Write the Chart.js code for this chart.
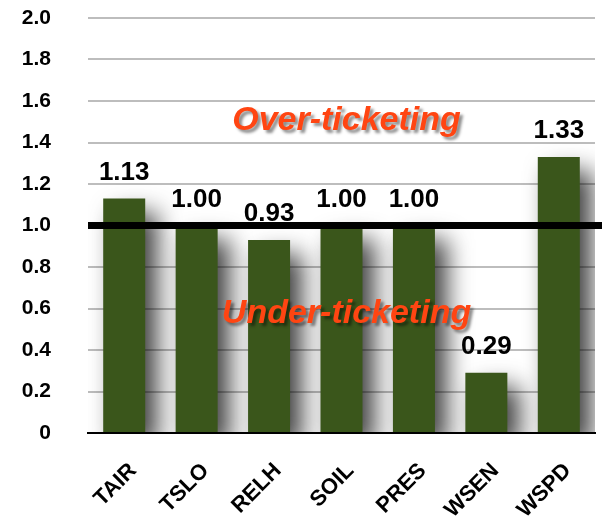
<!DOCTYPE html>
<html lang="en">
<head>
    <meta charset="UTF-8">
    <title>Ticketing ratio</title>
    <style>
        body { margin: 0; background: #fff; }
        #wrap { width: 602px; height: 517px; }
    </style>
</head>
<body>
    <div id="wrap"><canvas id="ratioChart" width="602" height="517"></canvas></div>

    <script src="https://cdn.jsdelivr.net/npm/chart.js"></script>
    <script>
        // sensors and their ticket ratio
        const sensors = ['TAIR', 'TSLO', 'RELH', 'SOIL', 'PRES', 'WSEN', 'WSPD'];
        const ratios = [1.13, 1.00, 0.93, 1.00, 1.00, 0.29, 1.33];
        const yTicks = [0, 0.2, 0.4, 0.6, 0.8, 1.0, 1.2, 1.4, 1.6, 1.8, 2.0];
        const threshold = 1.0;

        const barGreen = '#3a561b';
        const noteColor = '#ff4512';
        const fontFamily = '"Liberation Sans", Arial, sans-serif';

        // soft drop shadow behind the bars
        const barShadow = {
            id: 'barShadow',
            beforeDatasetsDraw(chart) {
                const ctx = chart.ctx;
                ctx.save();
                ctx.shadowColor = 'rgba(0,0,0,0.75)';
                ctx.shadowBlur = 24;
                ctx.shadowOffsetX = 12;
                ctx.shadowOffsetY = 14;
            },
            afterDatasetsDraw(chart) {
                chart.ctx.restore();
            }
        };

        // threshold line, value labels and the two notes
        const overlay = {
            id: 'overlay',
            afterDatasetsDraw(chart) {
                const ctx = chart.ctx;
                const y = chart.scales.y;
                const area = chart.chartArea;

                ctx.save();
                const ly = y.getPixelForValue(threshold);
                ctx.fillStyle = '#000';
                ctx.fillRect(area.left, ly - 3.5, chart.width - area.left, 7);

                ctx.font = 'bold 26px ' + fontFamily;
                ctx.textAlign = 'center';
                ctx.textBaseline = 'alphabetic';
                chart.getDatasetMeta(0).data.forEach((bar, i) => {
                    ctx.fillText(ratios[i].toFixed(2), bar.x, bar.y - 19);
                });

                const cx = (area.left + area.right) / 2 + 5;
                ctx.font = 'italic bold 34px ' + fontFamily;
                ctx.shadowColor = 'rgba(0,0,0,0.45)';
                ctx.shadowBlur = 3;
                ctx.shadowOffsetX = 3;
                ctx.shadowOffsetY = 3;
                ctx.fillStyle = noteColor;
                ctx.fillText('Over-ticketing', cx, y.getPixelForValue(1.46));
                ctx.fillText('Under-ticketing', cx, y.getPixelForValue(0.53));
                ctx.restore();
            }
        };

        new Chart(document.getElementById('ratioChart'), {
            type: 'bar',
            data: {
                labels: sensors,
                datasets: [{
                    data: ratios,
                    backgroundColor: barGreen,
                    borderWidth: 0,
                    barPercentage: 0.58,
                    categoryPercentage: 1.0
                }]
            },
            options: {
                responsive: false,
                animation: false,
                layout: { padding: { top: 18, right: 7, left: 0, bottom: 0 } },
                plugins: {
                    legend: { display: false },
                    tooltip: { enabled: false }
                },
                scales: {
                    x: {
                        grid: { display: false, drawTicks: false },
                        border: { color: '#000', width: 2 },
                        ticks: {
                            color: '#000',
                            font: { family: fontFamily, size: 22, weight: 'bold' },
                            minRotation: 45,
                            maxRotation: 45,
                            padding: 25,
                            labelOffset: 9
                        },
                        afterFit(s) {
                            s.height = 84;
                            s.paddingLeft = 0;
                            s.paddingRight = 0;
                        }
                    },
                    y: {
                        min: 0,
                        max: 2.0,
                        afterBuildTicks(s) { s.ticks = yTicks.map(v => ({ value: v })); },
                        grid: { color: '#bdbdbd', lineWidth: 2, drawTicks: false },
                        border: { display: false },
                        ticks: {
                            color: '#000',
                            font: { family: fontFamily, size: 21, weight: 'bold' },
                            padding: 37,
                            callback: v => v === 0 ? '0' : v.toFixed(1)
                        },
                        afterFit(s) {
                            s.width = 88;
                            s.paddingTop = 0;
                            s.paddingBottom = 0;
                        }
                    }
                }
            },
            plugins: [barShadow, overlay]
        });
    </script>
</body>
</html>
